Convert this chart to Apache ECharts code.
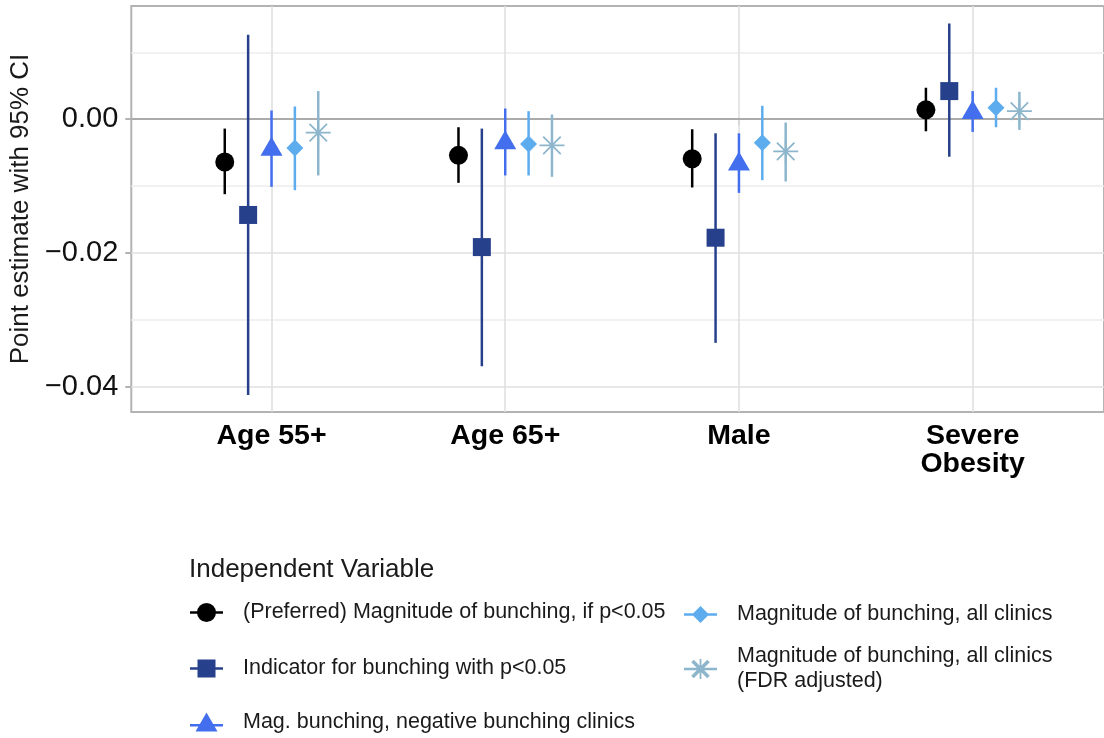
<!DOCTYPE html>
<html>
<head>
<meta charset="utf-8">
<script src="https://cdn.jsdelivr.net/npm/echarts@6/dist/echarts.min.js"></script>
<style>
  html, body { margin: 0; padding: 0; background: #fff; }
  #main { width: 1104px; height: 738px; }
</style>
</head>
<body>
<div id="main"></div>
<script>
const myChart = echarts.init(document.getElementById('main'));

// data
const categories = ['Age 55+', 'Age 65+', 'Male', 'Severe\nObesity'];
const yTickValues = [-0.04, -0.02, 0];
const yGridMajor = [-0.04, -0.02];
const yGridMinor = [-0.03, -0.01, 0.01];

const preferredEst = [-0.0064, -0.0054, -0.0059, 0.0014];
const preferredLo = [-0.0112, -0.0095, -0.0102, -0.0018];
const preferredHi = [-0.0014, -0.0012, -0.0015, 0.0047];

const indicatorEst = [-0.0143, -0.0191, -0.0177, 0.0042];
const indicatorLo = [-0.0412, -0.0369, -0.0334, -0.0056];
const indicatorHi = [0.0126, -0.0014, -0.0021, 0.0143];

const negativeEst = [-0.0045, -0.0035, -0.0067, 0.0010];
const negativeLo = [-0.0101, -0.0084, -0.0110, -0.0019];
const negativeHi = [0.0013, 0.0016, -0.0021, 0.0042];

const allEst = [-0.0043, -0.0037, -0.0035, 0.0017];
const allLo = [-0.0106, -0.0084, -0.0091, -0.0012];
const allHi = [0.0019, 0.0012, 0.0020, 0.0047];

const fdrEst = [-0.0020, -0.0039, -0.0048, 0.0012];
const fdrLo = [-0.0084, -0.0086, -0.0093, -0.0016];
const fdrHi = [0.0042, 0.0007, -0.0005, 0.0041];

const FONT = 'Liberation Sans, Arial, Helvetica, sans-serif';
const TXT = '#1a1a1a';

// marker shapes (asterisk = + and x)
const asteriskPath = 'path://M0 46.5L100 46.5L100 53.5L0 53.5Z M46.5 0L53.5 0L53.5 100L46.5 100Z ' +
  'M17.5 12.5L87.5 82.5L82.5 87.5L12.5 17.5Z M82.5 12.5L87.5 17.5L17.5 87.5L12.5 82.5Z';

// legend keys: line through marker, box 48x20, drawn part 0..33
const keyBox = 'M0 0 M48 20 ';
const keyBar = 'M0 8.75L33 8.75L33 11.25L0 11.25Z ';
const iconCircle = 'path://' + keyBox + keyBar + 'M26 10A9.5 9.5 0 1 1 7 10A9.5 9.5 0 1 1 26 10Z';
const iconSquare = 'path://' + keyBox + keyBar + 'M7.5 1L25.5 1L25.5 19L7.5 19Z';
const iconTriangle = 'path://' + keyBox + 'M0 11.5L33 11.5L33 14L0 14Z M16.5 0L27.5 19L5.5 19Z';
const iconDiamond = 'path://' + keyBox + keyBar + 'M16.5 1.5L25 10L16.5 18.5L8 10Z';
const iconAsterisk = 'path://' + keyBox + keyBar + 'M15.6 0L17.4 0L17.4 20L15.6 20Z ' +
  'M9.75 0.75L25.75 16.75L23.25 19.25L7.25 3.25Z M23.25 0.75L25.75 3.25L9.75 19.25L7.25 16.75Z';

const groups = [
  {name: '(Preferred) Magnitude of bunching, if p<0.05', est: preferredEst, lo: preferredLo, hi: preferredHi,
   color: '#000000', symbol: 'circle', size: 19, offset: [0, 0], icon: iconCircle, dodge: -0.2},
  {name: 'Indicator for bunching with p<0.05', est: indicatorEst, lo: indicatorLo, hi: indicatorHi,
   color: '#27408B', symbol: 'rect', size: 18, offset: [0, 0], icon: iconSquare, dodge: -0.1},
  {name: 'Mag. bunching, negative bunching clinics', est: negativeEst, lo: negativeLo, hi: negativeHi,
   color: '#436EEE', symbol: 'triangle', size: [22, 19], offset: [0, -3], icon: iconTriangle, dodge: 0},
  {name: 'Magnitude of bunching, all clinics', est: allEst, lo: allLo, hi: allHi,
   color: '#5CACEE', symbol: 'diamond', size: 17, offset: [0, 0], icon: iconDiamond, dodge: 0.1},
  {name: 'Magnitude of bunching, all clinics\n(FDR adjusted)', est: fdrEst, lo: fdrLo, hi: fdrHi,
   color: '#8DB6CD', symbol: asteriskPath, size: 25, offset: [0, 0], icon: iconAsterisk, dodge: 0.2}
];

const series = [];

// grid lines
series.push({
  type: 'line', data: [], silent: true, z: 1,
  markLine: {
    silent: true, symbol: 'none', animation: false, z: 1,
    label: {show: false},
    emphasis: {disabled: true},
    data: [
      ...yGridMinor.map(v => ({yAxis: v, lineStyle: {color: '#ececec', width: 1.5, type: 'solid'}})),
      ...yGridMajor.map(v => ({yAxis: v, lineStyle: {color: '#e0e0e0', width: 1.6, type: 'solid'}})),
      ...categories.map((c, i) => ({xAxis: i + 1, lineStyle: {color: '#e0e0e0', width: 1.6, type: 'solid'}}))
    ]
  }
});
// zero reference line
series.push({
  type: 'line', data: [], silent: true, z: 2,
  markLine: {
    silent: true, symbol: 'none', animation: false, z: 2,
    label: {show: false},
    emphasis: {disabled: true},
    data: [{yAxis: 0, lineStyle: {color: '#ababab', width: 2, type: 'solid'}}]
  }
});

groups.forEach(g => {
  series.push({
    type: 'custom',
    name: g.name + ' CI',
    silent: true,
    z: 3,
    data: categories.map((c, i) => [i + 1 + g.dodge, g.lo[i], g.hi[i]]),
    renderItem: function (params, api) {
      const x = api.value(0);
      const p1 = api.coord([x, api.value(1)]);
      const p2 = api.coord([x, api.value(2)]);
      return {
        type: 'line',
        shape: {x1: p1[0], y1: p1[1], x2: p2[0], y2: p2[1]},
        style: {stroke: g.color, lineWidth: 2.5}
      };
    }
  });
  series.push({
    type: 'scatter',
    name: g.name,
    silent: true,
    z: 4,
    symbol: g.symbol,
    symbolSize: g.size,
    symbolOffset: g.offset,
    itemStyle: {color: g.color, opacity: 1},
    data: categories.map((c, i) => [i + 1 + g.dodge, g.est[i]])
  });
});

const legendSlots = [
  {left: 190, top: 600},
  {left: 190, top: 656},
  {left: 190, top: 710},
  {left: 684, top: 602},
  {left: 684, top: 644}
];

const legends = groups.map((g, k) => ({
  left: legendSlots[k].left,
  top: legendSlots[k].top,
  orient: 'vertical',
  padding: 0,
  itemWidth: 48,
  itemHeight: 20,
  selectedMode: false,
  textStyle: {fontSize: 21.5, lineHeight: 25, color: TXT, fontFamily: FONT},
  data: [{name: g.name, icon: g.icon}]
}));

const option = {
  animation: false,
  backgroundColor: '#ffffff',
  textStyle: {fontFamily: FONT},
  title: {
    text: 'Independent Variable',
    left: 189,
    top: 557,
    padding: 0,
    textStyle: {fontSize: 26, fontWeight: 'normal', color: TXT, fontFamily: FONT}
  },
  legend: legends,
  grid: {
    left: 130, right: 0, top: 6, bottom: 326,
    show: true, borderColor: '#b3b3b3', borderWidth: 2, backgroundColor: 'transparent'
  },
  xAxis: {
    type: 'value',
    min: 0.4,
    max: 4.562,
    splitLine: {show: false},
    axisLine: {show: false},
    axisTick: {show: true, customValues: [1, 2, 3, 4], length: 6, lineStyle: {color: '#b3b3b3', width: 2}},
    axisLabel: {
      customValues: [1, 2, 3, 4],
      formatter: v => categories[Math.round(v) - 1],
      fontSize: 28.5, fontWeight: 'bold', lineHeight: 28, color: '#000', fontFamily: FONT,
      margin: 10, align: 'center'
    }
  },
  yAxis: {
    type: 'value',
    min: -0.04373,
    max: 0.01691,
    name: 'Point estimate with 95% CI',
    nameLocation: 'middle',
    nameGap: 92,
    nameTextStyle: {fontSize: 26, color: TXT, fontFamily: FONT},
    splitLine: {show: false},
    axisLine: {show: false},
    axisTick: {show: true, customValues: yTickValues, length: 6, lineStyle: {color: '#b3b3b3', width: 2}},
    axisLabel: {
      customValues: yTickValues,
      formatter: v => v.toFixed(2).replace('-', '\u2212'),
      fontSize: 29, color: '#111', fontFamily: FONT, margin: 13
    }
  },
  series: series
};

myChart.setOption(option);
</script>
</body>
</html>
